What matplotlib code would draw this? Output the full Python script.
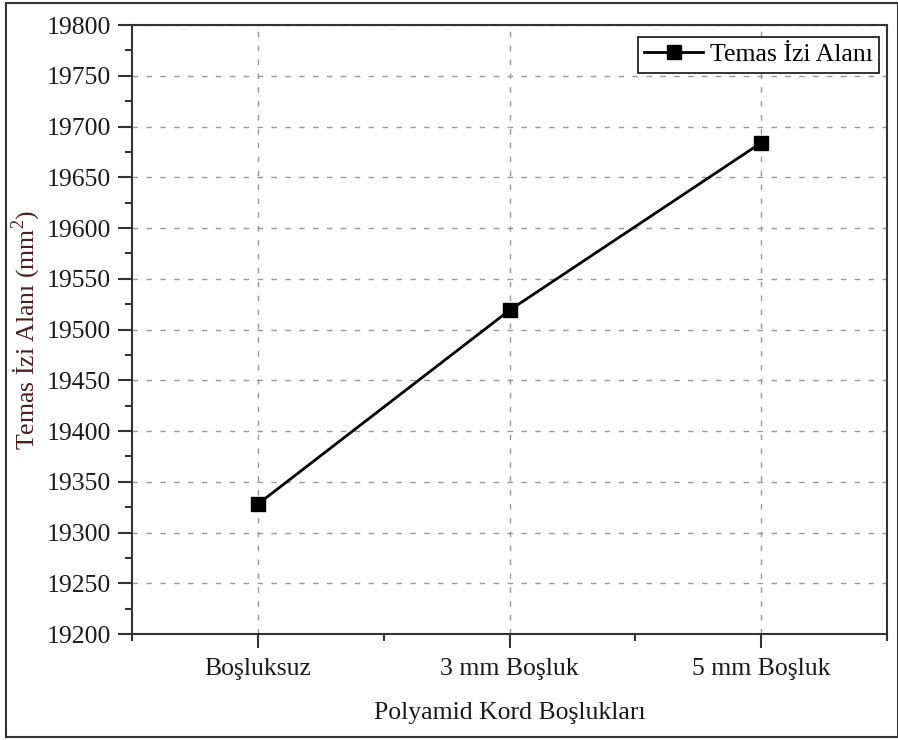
import matplotlib
matplotlib.use("Agg")
import matplotlib.pyplot as plt
from matplotlib.patches import Rectangle
from matplotlib.ticker import MultipleLocator

categories = ["Boşluksuz", "3 mm Boşluk", "5 mm Boşluk"]
contact_area = [19328, 19519, 19684]
series_label = "Temas İzi Alanı"
x_label = "Polyamid Kord Boşlukları"
y_label = "Temas İzi Alanı (mm$^2$)"

plt.rcParams["font.family"] = ["Liberation Serif", "DejaVu Serif"]
plt.rcParams["mathtext.fontset"] = "custom"
plt.rcParams["mathtext.rm"] = "Liberation Serif"

FS = 18.5

fig = plt.figure(figsize=(8.98, 7.40), dpi=100)
ax = fig.add_axes([0.147, 0.1432, 0.8408, 0.823])

x = list(range(len(categories)))
ax.plot(x, contact_area, color="black", linewidth=2.0, marker="s",
        markersize=9.5, markerfacecolor="black", markeredgecolor="black",
        label=series_label, zorder=3)

ax.set_xlim(-0.5, 2.5)
ax.set_ylim(19200, 19800)
ax.set_xticks(x)
ax.set_xticklabels(categories)
ax.xaxis.set_minor_locator(MultipleLocator(0.5))
ax.yaxis.set_major_locator(MultipleLocator(50))
ax.yaxis.set_minor_locator(MultipleLocator(25))

ax.tick_params(axis="both", which="major", direction="out", length=10,
               width=1.5, color="#333333", labelsize=FS, labelcolor="#1a1a1a")
ax.tick_params(axis="both", which="minor", direction="out", length=5,
               width=1.5, color="#333333")
ax.tick_params(axis="x", which="major", pad=7)
ax.tick_params(axis="y", which="major", pad=5)

ax.grid(True, which="major", color="#999999", linestyle=(0, (4, 6)),
        linewidth=1.0)
for s in ax.spines.values():
    s.set_color("#333333")
    s.set_linewidth(1.5)

ax.set_xlabel(x_label, fontsize=FS, color="#1a1a1a", labelpad=16)
ax.set_ylabel(y_label, fontsize=FS, color="#4a1e1e", labelpad=3)

leg = ax.legend(loc="upper right", bbox_to_anchor=(0.9894, 0.9803),
                fontsize=FS, frameon=True, fancybox=False,
                edgecolor="#222222", handlelength=2.3, handletextpad=0.25,
                borderpad=0.25, borderaxespad=0.0, framealpha=1.0)
leg.get_frame().set_linewidth(1.3)

fig.patches.append(Rectangle((6 / 898, 3 / 740), 892 / 898, 734 / 740,
                             transform=fig.transFigure, fill=False,
                             edgecolor="#333333", linewidth=1.5))

fig.savefig("out.png", dpi=100)
